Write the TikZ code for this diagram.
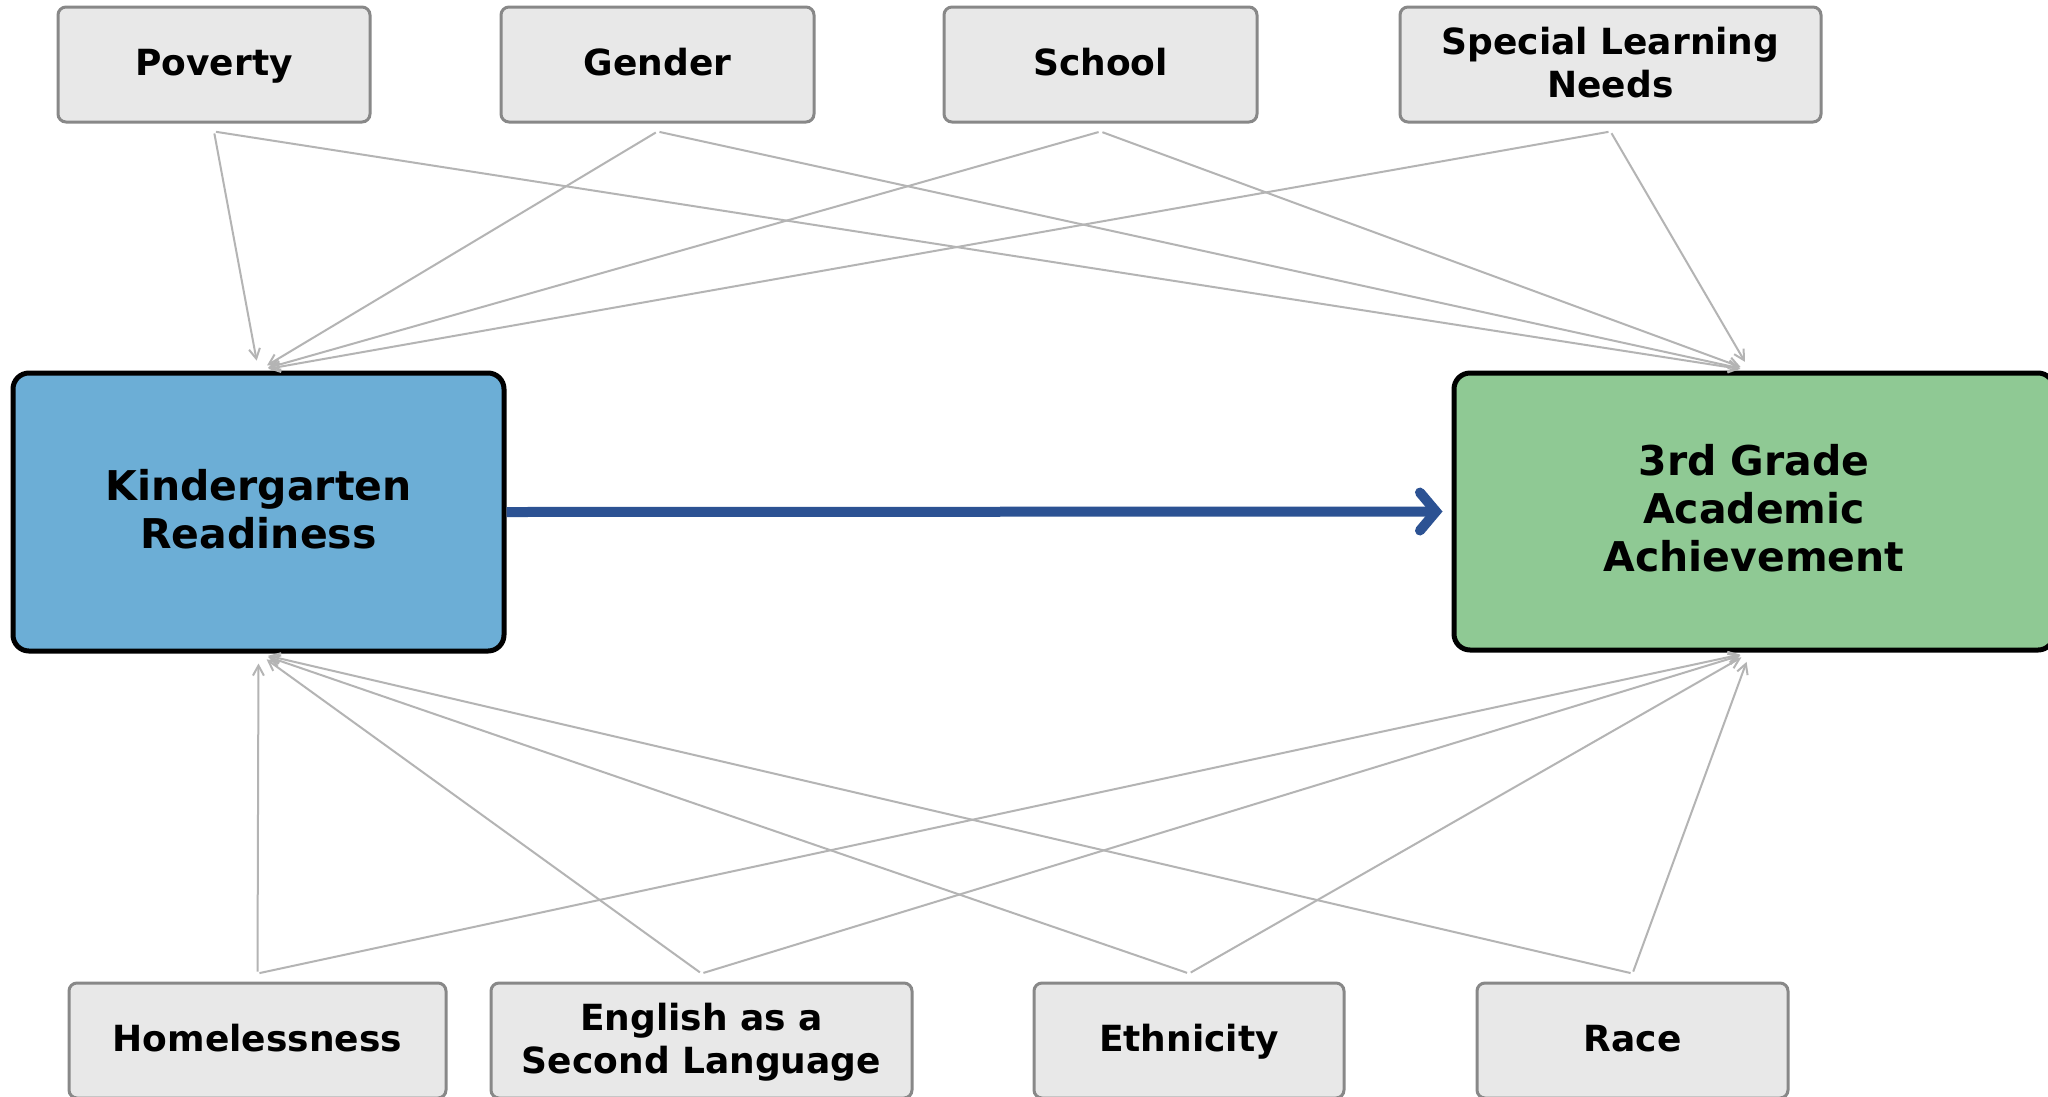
\documentclass[tikz,border=0pt]{standalone}
\usepackage{fontspec}
\setmainfont{DejaVu Sans}
\usetikzlibrary{arrows.meta}
\definecolor{boxgray}{HTML}{E8E8E8}
\definecolor{boxedge}{HTML}{888888}
\definecolor{linkgray}{HTML}{B4B4B4}
\definecolor{kblue}{HTML}{6CAED6}
\definecolor{ggreen}{HTML}{8FC994}
\definecolor{arrowblue}{HTML}{2C5293}
\newcommand\lnstrut{\vrule width0pt height0.76\baselineskip depth0.24\baselineskip}
\tikzset{
  factor/.style={draw=boxedge, fill=boxgray, line width=3pt, rounded corners=8pt,
    minimum height=115pt, inner sep=0pt, align=center,
    font=\fontsize{36}{43}\selectfont\bfseries},
  mainbox/.style={draw=black, line width=5pt, rounded corners=16pt,
    inner sep=0pt, align=center,
    font=\fontsize{41}{48}\selectfont\bfseries},
  link/.style={draw=linkgray, line width=2pt,
    -{Straight Barb[length=10pt,width=11pt]},
    shorten <=2pt, shorten >=10pt},
  mainlink/.style={draw=arrowblue, line width=10pt,
    -{Straight Barb[length=16pt,width=38pt,line cap=round]},
    shorten >=9pt}
}
\begin{document}
\begin{tikzpicture}[x=1pt,y=-1pt]
\useasboundingbox[fill=white] (0,0) rectangle (2048,1096);
% main boxes
\node[mainbox, fill=kblue, minimum width=491pt, minimum height=278pt] (kr) at (258.5,512) {\lnstrut Kindergarten\\\lnstrut Readiness};
\node[mainbox, fill=ggreen, minimum width=600pt, minimum height=277pt] (ga) at (1754,511.5) {\lnstrut 3rd Grade\\\lnstrut Academic\\\lnstrut Achievement};
% top factors
\node[factor, minimum width=312pt] (pov) at (214,64.5) {\lnstrut Poverty};
\node[factor, minimum width=313pt] (gen) at (657.5,64.5) {\lnstrut Gender};
\node[factor, minimum width=313pt] (sch) at (1100.5,64.5) {\lnstrut School};
\node[factor, minimum width=421pt] (sln) at (1610.5,64.5) {\lnstrut Special Learning\\\lnstrut Needs};
% bottom factors
\node[factor, minimum width=377pt] (hom) at (257.5,1040.5) {\lnstrut Homelessness};
\node[factor, minimum width=421pt] (esl) at (701.5,1040.5) {\lnstrut English as a\\\lnstrut Second Language};
\node[factor, minimum width=310pt] (eth) at (1189,1040.5) {\lnstrut Ethnicity};
\node[factor, minimum width=311pt] (race) at (1632.5,1040.5) {\lnstrut Race};
% link start points just outside the factor boxes
\foreach \s in {pov,gen,sch,sln}{
  \coordinate (\s-o) at ([yshift=-8pt]\s.south);
}
\foreach \s in {hom,esl,eth,race}{
  \coordinate (\s-o) at ([yshift=8pt]\s.north);
}
% target points on the main boxes
\coordinate (ga-t) at ([xshift=-4pt]ga.north);
\coordinate (ga-b) at ([xshift=-4pt]ga.south);
% links from top
\foreach \s in {pov,gen,sch,sln}{
  \draw[link] (\s-o) -- (kr.north);
  \draw[link] (\s-o) -- (ga-t);
}
% links from bottom
\foreach \s in {hom,esl,eth,race}{
  \draw[link] (\s-o) -- (kr.south);
  \draw[link] (\s-o) -- (ga-b);
}
% main arrow
\draw[mainlink] (kr.east) -- (ga.west);
\end{tikzpicture}
\end{document}
